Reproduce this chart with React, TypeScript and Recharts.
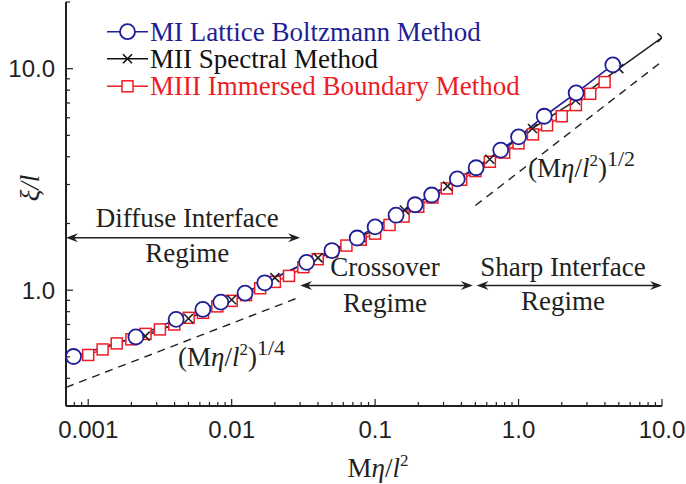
import { ComposedChart, Line, XAxis, YAxis, ReferenceLine, ReferenceDot } from "recharts";

// MI Lattice Boltzmann (blue circles)
const MI_X = [0.00079, 0.00215, 0.0041, 0.0063, 0.0084, 0.0124, 0.017, 0.0333, 0.05, 0.075, 0.1, 0.14, 0.19, 0.248, 0.374, 0.506, 0.751, 1.0, 1.51, 2.52, 4.54];
const MI_Y = [0.502, 0.615, 0.738, 0.819, 0.883, 0.97, 1.08, 1.336, 1.51, 1.72, 1.93, 2.18, 2.43, 2.69, 3.18, 3.57, 4.29, 4.92, 6.1, 7.77, 10.4];

// MII Spectral (black crosses)
const MII_X = [0.0025, 0.005, 0.01, 0.02, 0.04, 0.08, 0.16, 0.32, 0.63, 1.25, 2.5, 5, 10];
const MII_Y = [0.62, 0.745, 0.905, 1.14, 1.4, 1.73, 2.3, 2.95, 3.9, 5.37, 7.2, 10.0, 13.8];

// MIII Immersed Boundary (red squares)
const MIII_X = [0.001, 0.00126, 0.00158, 0.002, 0.00251, 0.00316, 0.00398, 0.00501, 0.00631, 0.00794, 0.01, 0.0126, 0.0158, 0.02, 0.0251, 0.0316, 0.0398, 0.0501, 0.0631, 0.0794, 0.1, 0.126, 0.158, 0.2, 0.251, 0.316, 0.398, 0.501, 0.631, 0.794, 1.0, 1.26, 1.58, 2.0, 2.51, 3.16, 3.98];
const MIII_Y = [0.51, 0.54, 0.575, 0.6, 0.635, 0.665, 0.7, 0.75, 0.79, 0.845, 0.895, 0.95, 1.02, 1.09, 1.16, 1.27, 1.38, 1.49, 1.59, 1.69, 1.8, 1.97, 2.15, 2.38, 2.62, 2.88, 3.15, 3.45, 3.8, 4.18, 4.6, 5.05, 5.55, 6.1, 6.85, 7.7, 8.7];

// power-law guide lines
const DASH_LO_X = [0.0007, 0.03];
const DASH_LO_Y = [0.364, 0.932];
const DASH_HI_X = [0.5, 10];
const DASH_HI_Y = [2.41, 10.78];

const X_MAJOR = [0.001, 0.01, 0.1, 1, 10];
const X_LABELS = ["0.001", "0.01", "0.1", "1.0", "10.0"];
const X_MINOR = [0.0008, 0.0009, 0.002, 0.003, 0.004, 0.005, 0.006, 0.007, 0.008, 0.009, 0.02, 0.03, 0.04, 0.05, 0.06, 0.07, 0.08, 0.09, 0.2, 0.3, 0.4, 0.5, 0.6, 0.7, 0.8, 0.9, 2, 3, 4, 5, 6, 7, 8, 9];
const Y_MAJOR = [1, 10];
const Y_LABELS = ["1.0", "10.0"];
const Y_MINOR = [0.3, 0.4, 0.5, 0.6, 0.7, 0.8, 0.9, 2, 3, 4, 5, 6, 7, 8, 9, 20];

const X_TICKS = [...X_MINOR, ...X_MAJOR].sort((a, b) => a - b);
const Y_TICKS = [...Y_MINOR, ...Y_MAJOR].sort((a, b) => a - b);

const zip = (xs: number[], ys: number[]) => xs.map((x, i) => ({ x, y: ys[i] }));

const INK = "#231f20";
const BLUE = "#1e1e96";
const RED = "#ee1c25";
const SANS = "'Liberation Sans', Arial, sans-serif";
const SERIF = "'Liberation Serif', 'Times New Roman', serif";

const isMajor = (arr: number[], v: number) => arr.indexOf(v);

function BottomTick({ x, y, payload }: any) {
  const i = isMajor(X_MAJOR, payload.value);
  return (
    <g>
      <line x1={x} x2={x} y1={y} y2={y - (i >= 0 ? 7 : 4)} stroke={INK} strokeWidth={1.2} />
      {i >= 0 && (
        <text x={x} y={y + 32} textAnchor="middle" fontFamily={SANS} fontSize={24} fill={INK}>
          {X_LABELS[i]}
        </text>
      )}
    </g>
  );
}

function TopTick({ x, y, payload }: any) {
  const i = isMajor(X_MAJOR, payload.value);
  return <line x1={x} x2={x} y1={y} y2={y + (i >= 0 ? 7 : 4)} stroke={INK} strokeWidth={1.2} />;
}

function LeftTick({ x, y, payload }: any) {
  const i = isMajor(Y_MAJOR, payload.value);
  return (
    <g>
      <line x1={x} x2={x + (i >= 0 ? 7 : 4)} y1={y} y2={y} stroke={INK} strokeWidth={1.2} />
      {i >= 0 && (
        <text x={x - 11} y={y + 8.5} textAnchor="end" fontFamily={SANS} fontSize={24} fill={INK}>
          {Y_LABELS[i]}
        </text>
      )}
    </g>
  );
}

function RightTick({ x, y, payload }: any) {
  const i = isMajor(Y_MAJOR, payload.value);
  return <line x1={x} x2={x - (i >= 0 ? 7 : 4)} y1={y} y2={y} stroke={INK} strokeWidth={1.2} />;
}

const squareDot = ({ cx, cy, index }: any) => (
  <rect key={`s${index}`} x={cx - 5.5} y={cy - 5.5} width={11} height={11} fill="#fff" stroke={RED} strokeWidth={1.5} />
);

const crossDot = ({ cx, cy, index }: any) => (
  <path key={`c${index}`} d={`M${cx - 4.5},${cy - 4.5}L${cx + 4.5},${cy + 4.5}M${cx - 4.5},${cy + 4.5}L${cx + 4.5},${cy - 4.5}`} stroke={INK} strokeWidth={1.6} />
);

function Arrow({ x1, x2, y1 }: any) {
  const l = Math.min(x1, x2);
  const r = Math.max(x1, x2);
  const y = y1;
  return (
    <g>
      <line x1={l + 4} x2={r - 4} y1={y} y2={y} stroke={INK} strokeWidth={1.6} />
      <path d={`M${l},${y}L${l + 12},${y - 4.5}L${l + 8},${y}L${l + 12},${y + 4.5}Z`} fill={INK} />
      <path d={`M${r},${y}L${r - 12},${y - 4.5}L${r - 8},${y}L${r - 12},${y + 4.5}Z`} fill={INK} />
    </g>
  );
}

const twoLines = (top: string, bottom: string, up: number, down: number) => ({ viewBox }: any) => {
  const cx = viewBox.x + viewBox.width / 2;
  const cy = viewBox.y + viewBox.height / 2;
  return (
    <g fontFamily={SERIF} fontSize={27} fill={INK} textAnchor="middle">
      <text x={cx} y={cy - up}>{top}</text>
      <text x={cx} y={cy + down}>{bottom}</text>
    </g>
  );
};

const powerLabel = (exp: string) => ({ viewBox }: any) => {
  const x = viewBox.x + viewBox.width / 2;
  const y = viewBox.y + viewBox.height / 2;
  return (
    <text x={x} y={y} fontFamily={SERIF} fontSize={27} fill={INK}>
      (M<tspan fontStyle="italic">η</tspan>/<tspan fontStyle="italic">l</tspan>
      <tspan fontSize={17} dy={-11}>2</tspan>
      <tspan dy={11}>)</tspan>
      <tspan fontSize={22} dy={-11}>{exp}</tspan>
    </text>
  );
};

const hidden = { r: 1, fill: "none", stroke: "none" };

function LegendOverlay() {
  const rows = [
    { label: "MI Lattice Boltzmann Method", color: BLUE, kind: "circle", y: 31.7 },
    { label: "MII Spectral Method", color: "#111", kind: "cross", y: 58.8 },
    { label: "MIII Immersed Boundary Method", color: RED, kind: "square", y: 86.3 },
  ];
  return (
    <svg width={686} height={110} style={{ position: "absolute", left: 0, top: 0, pointerEvents: "none" }}>
      {rows.map((r) => (
        <g key={r.label}>
          <line x1={107} x2={148} y1={r.y} y2={r.y} stroke={r.color} strokeWidth={1.6} />
          {r.kind === "circle" && <circle cx={127.5} cy={r.y} r={7.5} fill="#fff" stroke={r.color} strokeWidth={1.8} />}
          {r.kind === "square" && <rect x={122} y={r.y - 5.5} width={11} height={11} fill="#fff" stroke={r.color} strokeWidth={1.5} />}
          {r.kind === "cross" && (
            <path d={`M123,${r.y - 4.5}L132,${r.y + 4.5}M123,${r.y + 4.5}L132,${r.y - 4.5}`} stroke={r.color} strokeWidth={1.6} />
          )}
          <text x={150} y={r.y + 9} fontFamily={SERIF} fontSize={27} fill={r.color}>
            {r.label}
          </text>
        </g>
      ))}
    </svg>
  );
}

export default function App() {
  return (
    <div style={{ position: "absolute", left: 0, top: 0, width: 686, height: 484, background: "#fff" }}>
      <ComposedChart width={686} height={484} margin={{ top: 2, right: 24, bottom: 0, left: 0 }}>
        <XAxis
          dataKey="x"
          type="number"
          scale="log"
          domain={[0.0007, 10]}
          allowDataOverflow
          ticks={X_TICKS}
          interval={0}
          tick={BottomTick}
          tickLine={false}
          tickSize={0}
          tickMargin={0}
          height={78}
          axisLine={{ stroke: INK, strokeWidth: 2 }}
          label={{
            content: ({ viewBox }: any) => (
              <text x={viewBox.x + viewBox.width / 2 + 14} y={viewBox.y + 71} textAnchor="middle" fontFamily={SERIF} fontSize={27} fill={INK}>
                M<tspan fontStyle="italic">η</tspan>/<tspan fontStyle="italic">l</tspan>
                <tspan fontSize={17} dy={-11}>2</tspan>
              </text>
            ),
          }}
        />
        <XAxis
          xAxisId="top"
          orientation="top"
          dataKey="x"
          type="number"
          scale="log"
          domain={[0.0007, 10]}
          allowDataOverflow
          ticks={X_TICKS}
          interval={0}
          tick={TopTick}
          tickLine={false}
          tickSize={0}
          tickMargin={0}
          height={0}
          axisLine={{ stroke: INK, strokeWidth: 2 }}
        />
        <YAxis
          type="number"
          scale="log"
          domain={[0.3, 20]}
          allowDataOverflow
          ticks={Y_TICKS}
          interval={0}
          tick={LeftTick}
          tickLine={false}
          tickSize={0}
          tickMargin={0}
          width={66}
          axisLine={{ stroke: INK, strokeWidth: 2 }}
          label={{
            content: () => (
              <text x={30} y={188} transform="rotate(-90 30 188)" textAnchor="middle" dominantBaseline="central" fontFamily={SERIF} fontSize={27} fontStyle="italic" fill={INK}>
                ξ/l
              </text>
            ),
          }}
        />
        <YAxis
          yAxisId="right"
          orientation="right"
          type="number"
          scale="log"
          domain={[0.3, 20]}
          allowDataOverflow
          ticks={Y_TICKS}
          interval={0}
          tick={RightTick}
          tickLine={false}
          tickSize={0}
          tickMargin={0}
          width={0}
          axisLine={{ stroke: INK, strokeWidth: 2 }}
        />

        <Line data={zip(DASH_LO_X, DASH_LO_Y)} dataKey="y" stroke={INK} strokeWidth={1.4} strokeDasharray="8 6" dot={false} isAnimationActive={false} />
        <Line data={zip(DASH_HI_X, DASH_HI_Y)} dataKey="y" stroke={INK} strokeWidth={1.4} strokeDasharray="8 6" dot={false} isAnimationActive={false} />

        <Line data={zip(MIII_X, MIII_Y)} dataKey="y" stroke={RED} strokeWidth={1.4} dot={squareDot} isAnimationActive={false} />
        <Line data={zip(MII_X, MII_Y)} dataKey="y" stroke={INK} strokeWidth={1.5} dot={crossDot} isAnimationActive={false} />
        <Line data={zip(MI_X, MI_Y)} dataKey="y" stroke={BLUE} strokeWidth={1.6} dot={{ r: 7.5, fill: "#fff", stroke: BLUE, strokeWidth: 1.8 }} isAnimationActive={false} />

        <ReferenceLine segment={[{ x: 0.0007, y: 1.726 }, { x: 0.03, y: 1.726 }]} shape={Arrow} />
        <ReferenceLine segment={[{ x: 0.03, y: 1.05 }, { x: 0.48, y: 1.05 }]} shape={Arrow} />
        <ReferenceLine segment={[{ x: 0.51, y: 1.05 }, { x: 10, y: 1.05 }]} shape={Arrow} />

        <ReferenceDot x={0.0049} y={1.726} {...hidden} label={{ content: twoLines("Diffuse Interface", "Regime", 11, 24) }} />
        <ReferenceDot x={0.117} y={1.05} {...hidden} label={{ content: twoLines("Crossover", "Regime", 9, 27) }} />
        <ReferenceDot x={2.04} y={1.05} {...hidden} label={{ content: twoLines("Sharp Interface", "Regime", 9, 25) }} />

        <ReferenceDot x={0.00423} y={0.455} {...hidden} label={{ content: powerLabel("1/4") }} />
        <ReferenceDot x={1.165} y={3.255} {...hidden} label={{ content: powerLabel("1/2") }} />
      </ComposedChart>
      <LegendOverlay />
    </div>
  );
}
